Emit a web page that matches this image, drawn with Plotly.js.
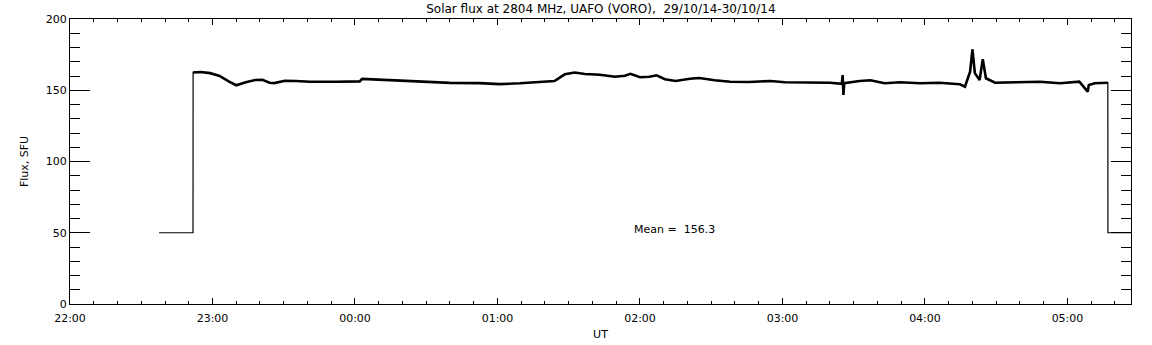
<!DOCTYPE html>
<html>
<head>
<meta charset="utf-8">
<script src="https://cdn.plot.ly/plotly-3.0.1.min.js"></script>
<style>html,body{margin:0;padding:0;background:#fff;}</style>
</head>
<body>
<div id="chart" style="width:1152px;height:345px;"></div>
<script>
// Time stamps (UT)
const times = [
  "2014-10-29 22:37:30","2014-10-29 22:51:48","2014-10-29 22:51:50","2014-10-29 22:55:00",
  "2014-10-29 22:59:00","2014-10-29 23:03:00","2014-10-29 23:07:00","2014-10-29 23:10:00",
  "2014-10-29 23:14:00","2014-10-29 23:18:00","2014-10-29 23:21:00","2014-10-29 23:24:00",
  "2014-10-29 23:26:00","2014-10-29 23:30:30","2014-10-29 23:35:00","2014-10-29 23:41:00",
  "2014-10-29 23:52:00","2014-10-30 00:02:00","2014-10-30 00:03:00","2014-10-30 00:10:30",
  "2014-10-30 00:19:00","2014-10-30 00:31:30","2014-10-30 00:40:00","2014-10-30 00:52:30",
  "2014-10-30 01:01:00","2014-10-30 01:09:30","2014-10-30 01:18:00","2014-10-30 01:24:00",
  "2014-10-30 01:28:20","2014-10-30 01:32:30","2014-10-30 01:36:50","2014-10-30 01:43:00",
  "2014-10-30 01:49:30","2014-10-30 01:53:40","2014-10-30 01:56:00","2014-10-30 02:00:00",
  "2014-10-30 02:04:00","2014-10-30 02:07:00","2014-10-30 02:10:30","2014-10-30 02:15:00",
  "2014-10-30 02:21:00","2014-10-30 02:25:00","2014-10-30 02:31:30","2014-10-30 02:38:00",
  "2014-10-30 02:46:00","2014-10-30 02:55:00","2014-10-30 03:01:00","2014-10-30 03:07:00",
  "2014-10-30 03:20:00","2014-10-30 03:25:00","2014-10-30 03:25:20","2014-10-30 03:25:40",
  "2014-10-30 03:26:00","2014-10-30 03:32:30","2014-10-30 03:37:00","2014-10-30 03:43:00",
  "2014-10-30 03:49:30","2014-10-30 03:58:00","2014-10-30 04:06:00","2014-10-30 04:14:40",
  "2014-10-30 04:16:50","2014-10-30 04:19:00","2014-10-30 04:20:00","2014-10-30 04:21:00",
  "2014-10-30 04:23:00","2014-10-30 04:24:20","2014-10-30 04:25:40","2014-10-30 04:29:30",
  "2014-10-30 04:40:00","2014-10-30 04:48:20","2014-10-30 04:56:50","2014-10-30 05:05:00",
  "2014-10-30 05:08:30","2014-10-30 05:09:00","2014-10-30 05:11:30","2014-10-30 05:17:00",
  "2014-10-30 05:17:02","2014-10-30 05:26:45"
];
// Flux values (SFU)
const flux = [
  50, 50, 162.5, 162.8,
  162, 160, 156, 153.5,
  155.6, 157.2, 157.3, 155.3,
  155, 156.7, 156.5, 156,
  156, 156.2, 158, 157.4,
  156.5, 155.6, 155.2, 155,
  154.3, 154.9, 155.6, 156.5,
  161.2, 162.4, 161.4, 160.9,
  159.5, 160.2, 161.5, 159.1,
  159.5, 160.5, 157.7, 156.5,
  158.1, 158.6, 157, 156,
  155.8, 156.5, 155.6, 155.6,
  155.3, 154.5, 160.7, 146.7,
  155, 156.5, 157, 154.9,
  155.6, 154.9, 155.3, 154.2,
  152.5, 163, 178.7, 162,
  157.2, 171.7, 158.4, 155.3,
  155.6, 156, 154.9, 156,
  149, 153.7, 154.9, 155.3,
  50, 50
];
// observing-window plateau (indices into the arrays above)
const plateauStart = 2, plateauEnd = 76;

const meanText = "Mean =  156.3";
const titleText = "Solar flux at 2804 MHz, UAFO (VORO),  29/10/14-30/10/14";

const font = {family: "DejaVu Sans", size: 11, color: "#000"};

const traceAll = {
  x: times, y: flux, type: "scatter", mode: "lines",
  line: {color: "#000", width: 1.2, shape: "linear"},
  hoverinfo: "skip"
};
const tracePlateau = {
  x: times.slice(plateauStart, plateauEnd), y: flux.slice(plateauStart, plateauEnd),
  type: "scatter", mode: "lines",
  line: {color: "#000", width: 2.6, shape: "linear"},
  hoverinfo: "skip"
};

const layout = {
  width: 1152, height: 345,
  margin: {l: 70, r: 21, t: 19, b: 41},
  paper_bgcolor: "#fff", plot_bgcolor: "#fff",
  showlegend: false,
  font: font,
  title: {text: titleText, font: {family: "DejaVu Sans", size: 12, color: "#000"},
          x: 0.5216, xanchor: "center", y: 0.975, yanchor: "middle"},
  xaxis: {
    type: "date",
    range: ["2014-10-29 22:00:00", "2014-10-30 05:26:45"],
    tickformat: "%H:%M", dtick: 3600000, tick0: "2014-10-29 22:00:00",
    ticks: "inside", ticklen: 6, tickwidth: 1, tickcolor: "#000",
    ticklabelstandoff: 4,
    minor: {dtick: 600000, ticks: "inside", ticklen: 3, tickwidth: 1, tickcolor: "#000"},
    showline: true, linecolor: "#000", linewidth: 1, mirror: "ticks",
    showgrid: false, zeroline: false,
    tickfont: font,
    title: {text: "UT", font: font, standoff: 6}
  },
  yaxis: {
    range: [0, 200], dtick: 50, tick0: 0,
    ticks: "inside", ticklen: 20, tickwidth: 1, tickcolor: "#000",
    minor: {dtick: 10, ticks: "inside", ticklen: 10, tickwidth: 1, tickcolor: "#000"},
    showline: true, linecolor: "#000", linewidth: 1, mirror: "ticks",
    showgrid: false, zeroline: false,
    tickfont: font,
    title: {text: "Flux, SFU", font: font, standoff: 14}
  },
  annotations: [{
    text: meanText, xref: "x", yref: "y",
    x: "2014-10-30 01:56:40", y: 52.6, xanchor: "left", yanchor: "middle",
    showarrow: false, font: font
  }]
};

Plotly.newPlot("chart", [traceAll, tracePlateau], layout, {staticPlot: true, displayModeBar: false});
</script>
</body>
</html>
